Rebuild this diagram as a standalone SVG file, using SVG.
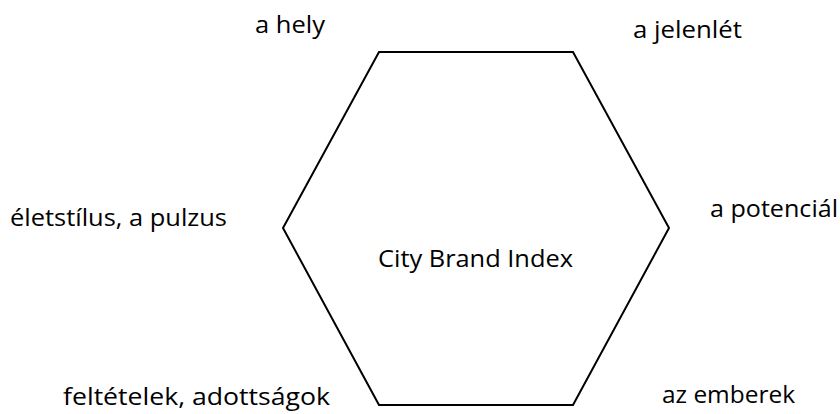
<svg xmlns="http://www.w3.org/2000/svg" width="840" height="414" viewBox="0 0 840 414">
<style>
text{font-family:"Open Sans","Liberation Sans",sans-serif;font-size:24px;fill:#000}
.hex{fill:#fff;stroke:#000;stroke-width:2}
</style>
<rect width="840" height="414" fill="#fff"/>
<g id="hexagon">
<polygon class="hex" points="379,52 573,52 669,228 573,405 379,405 283,228"/>
<text x="378" y="267" textLength="195" lengthAdjust="spacingAndGlyphs">City Brand Index</text>
</g>
<g id="label-hely"><text x="255" y="33" textLength="70" lengthAdjust="spacingAndGlyphs">a hely</text></g>
<g id="label-jelenlet"><text x="633" y="38" textLength="109" lengthAdjust="spacingAndGlyphs">a jelenlét</text></g>
<g id="label-eletstilus"><text x="10" y="226" textLength="217" lengthAdjust="spacingAndGlyphs">életstílus, a pulzus</text></g>
<g id="label-potencial"><text x="710" y="217" textLength="128" lengthAdjust="spacingAndGlyphs">a potenciál</text></g>
<g id="label-feltetelek"><text x="63" y="405" textLength="267" lengthAdjust="spacingAndGlyphs">feltételek, adottságok</text></g>
<g id="label-emberek"><text x="662" y="403" textLength="133" lengthAdjust="spacingAndGlyphs">az emberek</text></g>
<g id="connectors"></g>
</svg>
